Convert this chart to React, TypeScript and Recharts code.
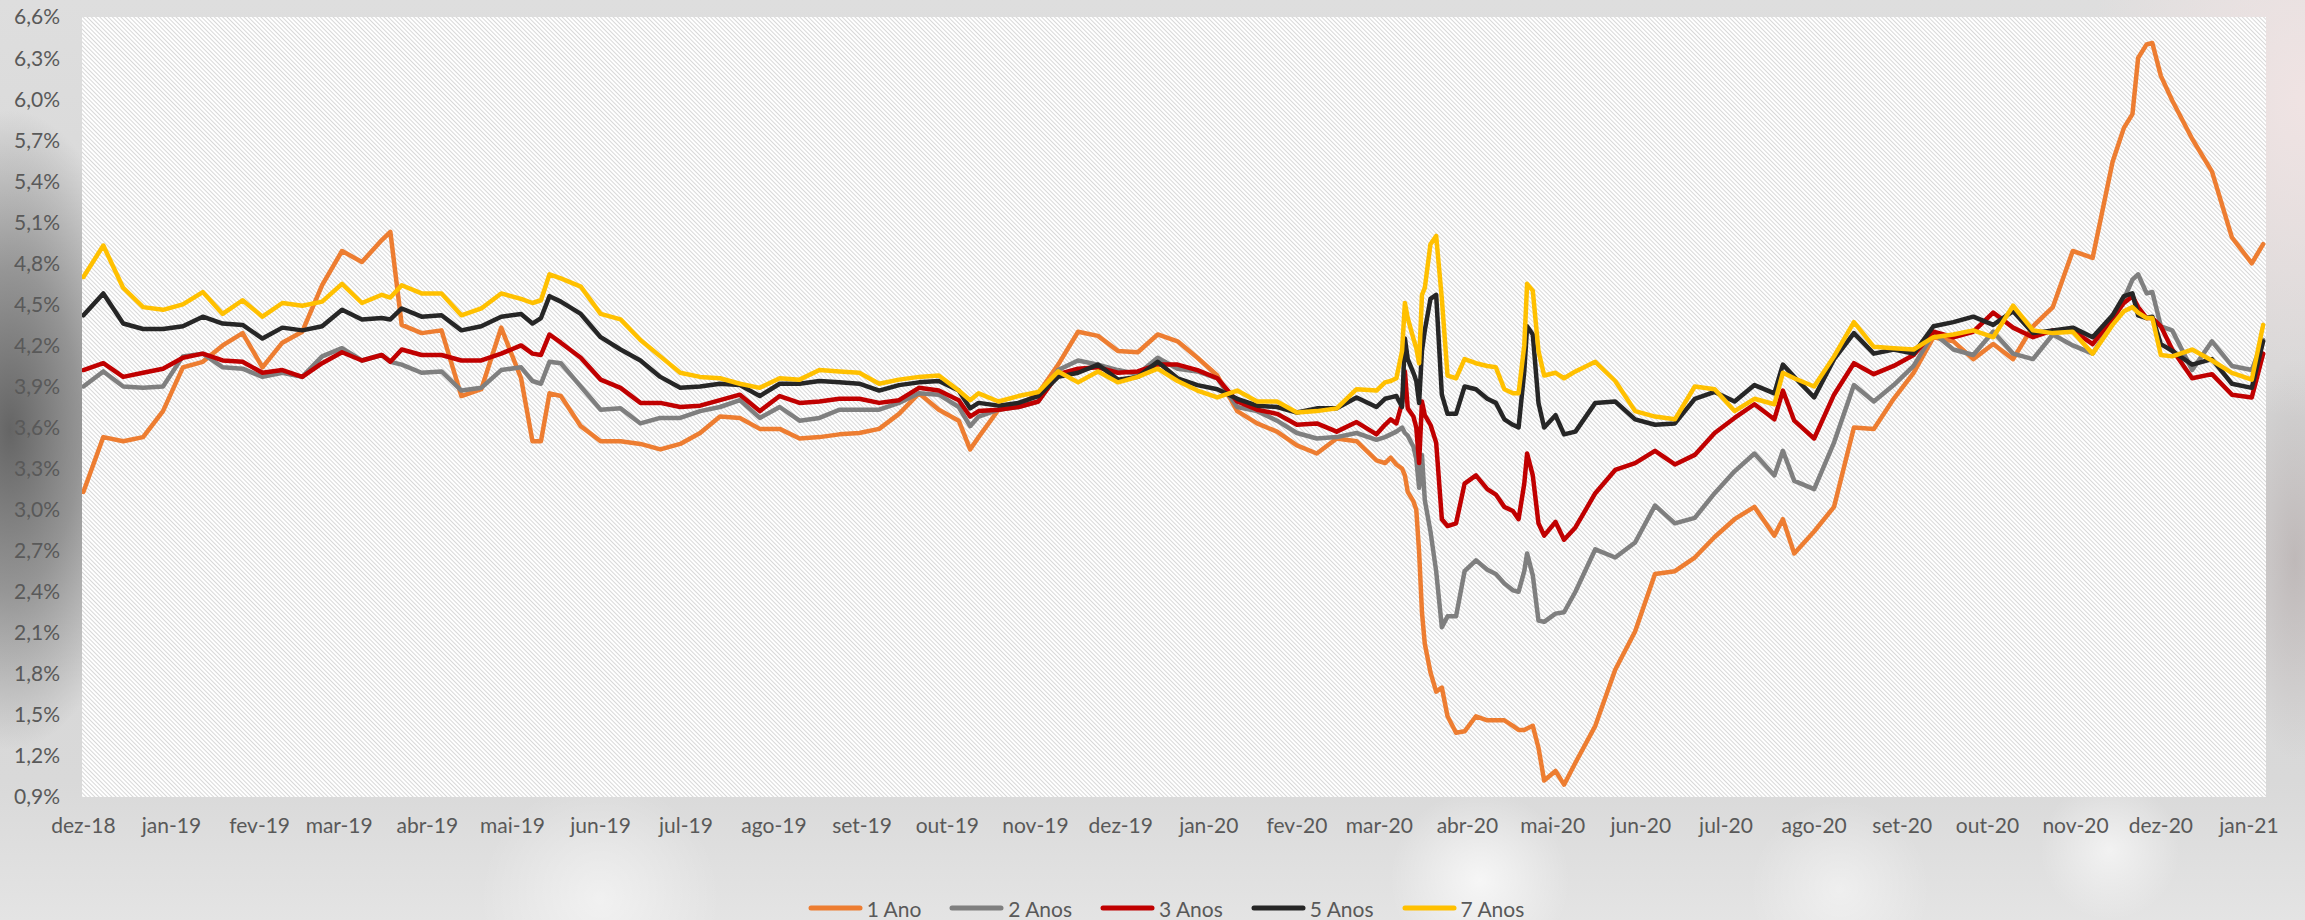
import React from "react";
import { LineChart, Line, XAxis, YAxis, CartesianGrid, Legend } from "recharts";

// observation dates (irregular spacing around the volatile stretches)
const dates = [
  "2018-12-01", "2018-12-08", "2018-12-15", "2018-12-22", "2018-12-29", "2019-01-05", "2019-01-12", "2019-01-19", "2019-01-26", "2019-02-02",
  "2019-02-09", "2019-02-16", "2019-02-23", "2019-03-02", "2019-03-09", "2019-03-16", "2019-03-19", "2019-03-23", "2019-03-30", "2019-04-06",
  "2019-04-13", "2019-04-20", "2019-04-27", "2019-05-04", "2019-05-08", "2019-05-11", "2019-05-14", "2019-05-18", "2019-05-25", "2019-06-01",
  "2019-06-08", "2019-06-15", "2019-06-22", "2019-06-29", "2019-07-06", "2019-07-13", "2019-07-20", "2019-07-27", "2019-08-03", "2019-08-10",
  "2019-08-17", "2019-08-24", "2019-08-31", "2019-09-07", "2019-09-14", "2019-09-21", "2019-09-28", "2019-10-05", "2019-10-09", "2019-10-12",
  "2019-10-19", "2019-10-26", "2019-11-02", "2019-11-09", "2019-11-16", "2019-11-23", "2019-11-30", "2019-12-07", "2019-12-14",
  "2019-12-21", "2019-12-28", "2020-01-04", "2020-01-11", "2020-01-18", "2020-01-25", "2020-02-01", "2020-02-08", "2020-02-15", "2020-02-22",
  "2020-02-29", "2020-03-03", "2020-03-05", "2020-03-07", "2020-03-09", "2020-03-10", "2020-03-11", "2020-03-13", "2020-03-14", "2020-03-15",
  "2020-03-16", "2020-03-17", "2020-03-19", "2020-03-21", "2020-03-23", "2020-03-25", "2020-03-28", "2020-03-31", "2020-04-04", "2020-04-08",
  "2020-04-11", "2020-04-14", "2020-04-17", "2020-04-19",
  "2020-04-21", "2020-04-22", "2020-04-24", "2020-04-26", "2020-04-28", "2020-05-02", "2020-05-05", "2020-05-09", "2020-05-16", "2020-05-23",
  "2020-05-30", "2020-06-06", "2020-06-13", "2020-06-20", "2020-06-27", "2020-07-04", "2020-07-11", "2020-07-18", "2020-07-21", "2020-07-25",
  "2020-08-01", "2020-08-08", "2020-08-15", "2020-08-22",
  "2020-08-29", "2020-09-05", "2020-09-12", "2020-09-19", "2020-09-26", "2020-10-03", "2020-10-10", "2020-10-17", "2020-10-24", "2020-10-31",
  "2020-11-07", "2020-11-14", "2020-11-18", "2020-11-21", "2020-11-23", "2020-11-26", "2020-11-28", "2020-12-01", "2020-12-05", "2020-12-12",
  "2020-12-19", "2020-12-26", "2021-01-02", "2021-01-06",
];

// yields in % per tenor
const ano1 = [
  3.13, 3.53, 3.5, 3.53, 3.72, 4.04, 4.08, 4.2, 4.29, 4.04, 4.22, 4.3, 4.64, 4.89, 4.81, 4.97, 5.03, 4.35, 4.29, 4.31,
  3.83, 3.88, 4.33, 3.96, 3.5, 3.5, 3.85, 3.83, 3.61, 3.5, 3.5, 3.48, 3.44, 3.48, 3.56, 3.68, 3.67, 3.59, 3.59, 3.52,
  3.53, 3.55, 3.56, 3.59, 3.7, 3.85, 3.73, 3.65, 3.44, 3.53, 3.73, 3.76, 3.85, 4.06, 4.3, 4.27, 4.16, 4.15, 4.28,
  4.23, 4.11, 3.98, 3.72, 3.63, 3.57, 3.47, 3.41, 3.52, 3.5, 3.36, 3.34, 3.38, 3.33, 3.3, 3.25, 3.13, 3.06, 3.0, 2.69,
  2.25, 2.02, 1.81, 1.67, 1.7, 1.49, 1.37, 1.38, 1.49, 1.46, 1.46, 1.46, 1.42, 1.39,
  1.39, 1.4, 1.42, 1.26, 1.02, 1.09, 0.99, 1.15, 1.42, 1.83, 2.11, 2.53, 2.55, 2.65, 2.8, 2.93, 3.02, 2.81, 2.93, 2.68,
  2.84, 3.02, 3.6, 3.59,
  3.81, 4.0, 4.26, 4.23, 4.1, 4.21, 4.1, 4.34, 4.48, 4.89, 4.84, 5.54, 5.79, 5.89, 6.3, 6.4, 6.41, 6.17, 5.99, 5.71,
  5.47, 4.99, 4.8, 4.94,
];
const ano2 = [
  3.9, 4.01, 3.9, 3.89, 3.9, 4.12, 4.14, 4.04, 4.03, 3.97, 4.0, 3.97, 4.12, 4.18, 4.09, 4.13, 4.08, 4.06, 4.0, 4.01,
  3.87, 3.89, 4.02, 4.04, 3.94, 3.92, 4.08, 4.07, 3.9, 3.73, 3.74, 3.63, 3.67, 3.67, 3.72, 3.75, 3.8, 3.67, 3.75, 3.65,
  3.67, 3.73, 3.73, 3.73, 3.78, 3.85, 3.84, 3.75, 3.61, 3.68, 3.73, 3.75, 3.79, 4.02, 4.09, 4.06, 4.02, 3.99, 4.11,
  4.03, 4.01, 3.96, 3.75, 3.72, 3.65, 3.56, 3.52, 3.53, 3.56, 3.51, 3.53, 3.55, 3.57, 3.6, 3.56, 3.54, 3.46, 3.37, 3.16,
  3.4, 3.07, 2.84, 2.55, 2.14, 2.22, 2.22, 2.55, 2.63, 2.56, 2.53, 2.46, 2.41, 2.4,
  2.55, 2.68, 2.52, 2.19, 2.18, 2.24, 2.25, 2.4, 2.71, 2.65, 2.76, 3.03, 2.9, 2.94, 3.12, 3.28, 3.41, 3.25, 3.43, 3.21,
  3.15, 3.49, 3.91, 3.79,
  3.91, 4.05, 4.29, 4.17, 4.13, 4.3, 4.14, 4.1, 4.28, 4.2, 4.14, 4.37, 4.54, 4.68, 4.72, 4.58, 4.59, 4.34, 4.31, 4.02,
  4.23, 4.05, 4.02, 4.24,
];
const ano3 = [
  4.02, 4.07, 3.97, 4.0, 4.03, 4.11, 4.14, 4.09, 4.08, 4.0, 4.02, 3.97, 4.07, 4.15, 4.09, 4.13, 4.08, 4.17, 4.13, 4.13,
  4.09, 4.09, 4.14, 4.2, 4.14, 4.13, 4.28, 4.22, 4.11, 3.95, 3.89, 3.78, 3.78, 3.75, 3.76, 3.8, 3.84, 3.72, 3.83, 3.78,
  3.79, 3.81, 3.81, 3.78, 3.8, 3.89, 3.87, 3.8, 3.68, 3.72, 3.73, 3.75, 3.79, 3.99, 4.03, 4.04, 4.0, 4.01, 4.06,
  4.06, 4.02, 3.96, 3.79, 3.73, 3.7, 3.62, 3.63, 3.57, 3.64, 3.55, 3.62, 3.66, 3.63, 3.78, 4.01, 3.74, 3.68, 3.6, 3.34,
  3.79, 3.69, 3.62, 3.49, 2.93, 2.88, 2.9, 3.19, 3.25, 3.15, 3.11, 3.02, 2.99, 2.93,
  3.19, 3.41, 3.25, 2.9, 2.81, 2.91, 2.78, 2.87, 3.12, 3.29, 3.34, 3.43, 3.33, 3.4, 3.56, 3.67, 3.77, 3.66, 3.87, 3.65,
  3.52, 3.84, 4.07, 3.99,
  4.05, 4.13, 4.3, 4.26, 4.3, 4.44, 4.33, 4.26, 4.31, 4.31, 4.21, 4.4, 4.51, 4.56, 4.48, 4.4, 4.4, 4.34, 4.17, 3.96,
  3.99, 3.84, 3.82, 4.14,
];
const ano5 = [
  4.42, 4.58, 4.36, 4.32, 4.32, 4.34, 4.41, 4.36, 4.35, 4.25, 4.33, 4.31, 4.34, 4.46, 4.39, 4.4, 4.39, 4.47, 4.41, 4.42,
  4.31, 4.34, 4.41, 4.43, 4.36, 4.4, 4.56, 4.52, 4.43, 4.26, 4.17, 4.09, 3.97, 3.89, 3.9, 3.92, 3.91, 3.83, 3.92, 3.92,
  3.94, 3.93, 3.92, 3.87, 3.91, 3.93, 3.94, 3.87, 3.74, 3.78, 3.76, 3.78, 3.83, 3.97, 4.0, 4.06, 3.95, 3.97, 4.08,
  3.96, 3.91, 3.88, 3.81, 3.76, 3.75, 3.71, 3.74, 3.74, 3.82, 3.75, 3.81, 3.82, 3.83, 3.75, 4.25, 4.1, 4.0, 3.94, 3.78,
  4.16, 4.31, 4.54, 4.57, 3.84, 3.7, 3.7, 3.9, 3.88, 3.81, 3.78, 3.66, 3.62, 3.6,
  4.01, 4.34, 4.28, 3.78, 3.6, 3.69, 3.55, 3.57, 3.78, 3.79, 3.66, 3.62, 3.63, 3.81, 3.86, 3.79, 3.91, 3.85, 4.06, 3.97,
  3.82, 4.1, 4.29, 4.14,
  4.17, 4.14, 4.34, 4.37, 4.41, 4.35, 4.45, 4.29, 4.31, 4.33, 4.26, 4.42, 4.56, 4.58, 4.42, 4.4, 4.41, 4.21, 4.16, 4.06,
  4.1, 3.92, 3.89, 4.23,
];
const ano7 = [
  4.7, 4.93, 4.62, 4.48, 4.46, 4.5, 4.59, 4.43, 4.53, 4.41, 4.51, 4.49, 4.52, 4.65, 4.51, 4.57, 4.55, 4.64, 4.58, 4.58,
  4.42, 4.47, 4.58, 4.54, 4.51, 4.53, 4.72, 4.69, 4.63, 4.43, 4.39, 4.24, 4.12, 4.0, 3.97, 3.96, 3.92, 3.89, 3.96, 3.95,
  4.02, 4.01, 4.0, 3.92, 3.95, 3.97, 3.98, 3.87, 3.8, 3.85, 3.79, 3.83, 3.86, 4.01, 3.93, 4.01, 3.93, 3.97, 4.03,
  3.94, 3.87, 3.82, 3.87, 3.79, 3.79, 3.71, 3.72, 3.74, 3.88, 3.87, 3.93, 3.94, 3.96, 4.16, 4.51, 4.4, 4.25, 4.18, 4.07,
  4.57, 4.62, 4.94, 5.0, 4.54, 3.98, 3.96, 4.1, 4.07, 4.05, 4.04, 3.88, 3.85, 3.85,
  4.2, 4.65, 4.6, 4.16, 3.98, 4.0, 3.96, 4.01, 4.08, 3.94, 3.72, 3.68, 3.66, 3.9, 3.88, 3.72, 3.81, 3.77, 4.0, 3.96,
  3.9, 4.12, 4.37, 4.19,
  4.18, 4.17, 4.26, 4.28, 4.31, 4.26, 4.49, 4.31, 4.29, 4.3, 4.14, 4.35, 4.45, 4.48, 4.44, 4.4, 4.4, 4.13, 4.12, 4.17,
  4.09, 4.0, 3.95, 4.35,
];

const seriesNames = ["1 Ano", "2 Anos", "3 Anos", "5 Anos", "7 Anos"];
const seriesColors = ["#ED7D31", "#7F7F7F", "#C00000", "#262626", "#FFC000"];
const ptMonths = ["jan", "fev", "mar", "abr", "mai", "jun", "jul", "ago", "set", "out", "nov", "dez"];
const yTicks = [0.9, 1.2, 1.5, 1.8, 2.1, 2.4, 2.7, 3.0, 3.3, 3.6, 3.9, 4.2, 4.5, 4.8, 5.1, 5.4, 5.7, 6.0, 6.3, 6.6];

const data = dates.map((d, i) => ({
  t: Date.parse(d),
  a1: ano1[i],
  a2: ano2[i],
  a3: ano3[i],
  a5: ano5[i],
  a7: ano7[i],
}));

// first day of each month, dez-18 .. jan-21
const monthTicks: number[] = [];
for (let i = 0; i < 26; i++) monthTicks.push(Date.UTC(2018, 11 + i, 1));

const fmtMonth = (t: number) => {
  const d = new Date(t);
  return `${ptMonths[d.getUTCMonth()]}-${String(d.getUTCFullYear()).slice(2)}`;
};
const fmtPct = (v: number) => `${v.toFixed(1).replace(".", ",")}%`;

const textStyle = { fill: "#595959", fontSize: 21, fontFamily: "Lato" };

const renderLegend = (props: any) => (
  <div
    style={{
      display: "flex",
      justifyContent: "center",
      alignItems: "center",
      height: 24,
      paddingLeft: 55,
      fontFamily: "Lato",
      fontSize: 21,
      color: "#595959",
    }}
  >
    {(props.payload || []).map((p: any) => (
      <div key={p.value} style={{ display: "flex", alignItems: "center", marginRight: 28 }}>
        <svg width={55} height={8}>
          <line x1={3} y1={4} x2={52} y2={4} stroke={p.color} strokeWidth={5} strokeLinecap="round" />
        </svg>
        <span style={{ marginLeft: 4 }}>{p.value}</span>
      </div>
    ))}
  </div>
);

const pageBg = [
  "radial-gradient(ellipse 220px 320px at 2305px 100px, rgba(242,228,228,0.9), rgba(242,228,228,0) 100%)",
  "radial-gradient(ellipse 60px 200px at 2295px 560px, rgba(175,165,165,0.6), rgba(175,165,165,0) 100%)",
  "radial-gradient(circle 90px at 1480px 880px, rgba(255,255,255,0.7), rgba(255,255,255,0) 100%)",
  "radial-gradient(circle 70px at 2110px 850px, rgba(255,255,255,0.6), rgba(255,255,255,0) 100%)",
  "radial-gradient(circle 120px at 600px 900px, rgba(255,255,255,0.5), rgba(255,255,255,0) 100%)",
  "radial-gradient(circle 90px at 1840px 890px, rgba(255,255,255,0.45), rgba(255,255,255,0) 100%)",
  "linear-gradient(180deg, #dedede 0%, #d5d5d5 45%, #d9d9d9 85%, #e4e4e4 100%)",
].join(",");

const App: React.FC = () => {
  return (
    <div
      style={{
        position: "fixed",
        left: 0,
        top: 0,
        width: 2305,
        height: 920,
        overflow: "hidden",
        background: pageBg,
      }}
    >
      {/* dark smudge behind the left axis labels */}
      <div
        style={{
          position: "absolute",
          left: -130,
          top: 110,
          width: 280,
          height: 640,
          background:
            "radial-gradient(closest-side, rgba(95,95,95,0.95), rgba(105,105,105,0.6) 50%, rgba(120,120,120,0) 100%)",
        }}
      />
      <div style={{ position: "absolute", left: 0, top: 0 }}>
        <LineChart width={2305} height={920} data={data} margin={{ top: 17, right: 39, bottom: 0, left: 0 }}>
          <defs>
            <pattern id="hatch" width="3" height="3" patternUnits="userSpaceOnUse" patternTransform="rotate(-45)">
              <rect width="3" height="3" fill="#ffffff" />
              <line x1="1.5" y1="0" x2="1.5" y2="3" stroke="#d4d4d4" strokeWidth="0.9" />
            </pattern>
          </defs>
          <CartesianGrid horizontal={false} vertical={false} fill="url(#hatch)" stroke="none" />
          <XAxis
            dataKey="t"
            type="number"
            domain={[Date.UTC(2018, 10, 30, 12), Date.UTC(2021, 0, 7)]}
            ticks={monthTicks}
            interval={0}
            tickFormatter={fmtMonth}
            axisLine={false}
            tickLine={false}
            tickSize={6}
            tickMargin={15}
            height={99}
            tick={textStyle}
            allowDataOverflow
          />
          <YAxis
            domain={[0.9, 6.6]}
            ticks={yTicks}
            interval={0}
            tickFormatter={fmtPct}
            axisLine={false}
            tickLine={false}
            tickSize={6}
            tickMargin={16}
            width={82}
            tick={textStyle}
            allowDataOverflow
          />
          <Legend
            verticalAlign="bottom"
            height={24}
            content={renderLegend}
            wrapperStyle={{ left: 0, width: 2305 }}
          />
          {["a1", "a2", "a3", "a5", "a7"].map((k, i) => (
            <Line
              key={k}
              type="linear"
              dataKey={k}
              name={seriesNames[i]}
              stroke={seriesColors[i]}
              strokeWidth={4.5}
              strokeLinejoin="round"
              strokeLinecap="round"
              dot={false}
              activeDot={false}
              isAnimationActive={false}
            />
          ))}
        </LineChart>
      </div>
    </div>
  );
};

export default App;
